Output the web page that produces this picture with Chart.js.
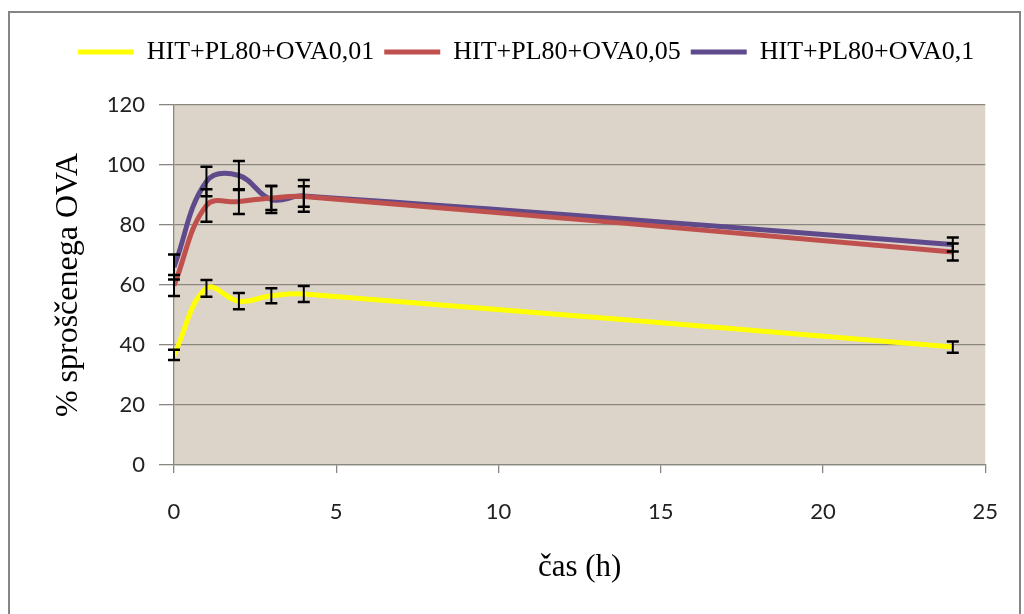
<!DOCTYPE html>
<html>
<head>
<meta charset="utf-8">
<script src="https://cdn.jsdelivr.net/npm/chart.js@4/dist/chart.umd.min.js"></script>
<style>
  html, body { margin: 0; padding: 0; background: #fff; }
  #wrap { width: 1024px; height: 614px; }
</style>
</head>
<body>
<div id="wrap"><canvas id="myChart" width="1024" height="614"></canvas></div>
<script>
// time points (h)
var hours = [0, 1, 2, 3, 4, 24];

// % released OVA
var ova001 = [36.7, 58.9, 54.6, 56.4, 57.0, 39.3];
var ova001Err = [1.7, 2.8, 2.7, 2.5, 2.7, 1.9];

var ova005 = [59.8, 86.5, 87.8, 89.0, 89.5, 71.0];
var ova005Err = [3.5, 5.4, 4.1, 4.0, 3.4, 2.8];

var ova01 = [66.0, 94.5, 96.5, 88.5, 89.7, 73.5];
var ova01Err = [4.2, 4.9, 4.8, 4.5, 5.3, 2.3];

var seriesNames = ['HIT+PL80+OVA0,01', 'HIT+PL80+OVA0,05', 'HIT+PL80+OVA0,1'];
var yTicks = [0, 20, 40, 60, 80, 100, 120];
var xTicks = [0, 5, 10, 15, 20, 25];

function pts(vals) {
  return hours.map(function(h, i) { return {x: h, y: vals[i]}; });
}

var errs = [ova001Err, ova005Err, ova01Err];

// white page, grey frame and beige plot area
var backPlugin = {
  id: 'backPlugin',
  beforeLayout: function(chart) {
    var lg = chart.legend;
    if (lg && !lg._fixed) {
      var f = lg.fit;
      lg.fit = function() { f.call(this); this.height = 76; };
      lg._fixed = true;
    }
  },
  afterLayout: function(chart) {
    // legend is centred over the whole frame, not just the plot
    if (chart.legend) { chart.legend.left = 64; }
  },
  beforeDraw: function(chart) {
    var ctx = chart.ctx, a = chart.chartArea;
    ctx.save();
    ctx.fillStyle = '#ffffff';
    ctx.fillRect(0, 0, chart.width, chart.height);
    ctx.strokeStyle = '#858585';
    ctx.lineWidth = 2;
    ctx.strokeRect(9, 12, 1011, 640);
    ctx.fillStyle = '#dcd4c8';
    ctx.fillRect(a.left, a.top, a.right - a.left, a.bottom - a.top);
    ctx.restore();
  }
};

// black error bars
var errorBars = {
  id: 'errorBars',
  afterDatasetsDraw: function(chart) {
    var ctx = chart.ctx;
    var xs = chart.scales.x, ys = chart.scales.y;
    ctx.save();
    ctx.strokeStyle = '#000';
    chart.data.datasets.forEach(function(ds, d) {
      ds.data.forEach(function(p, i) {
        var e = errs[d][i];
        var px = xs.getPixelForValue(p.x);
        var top = ys.getPixelForValue(p.y + e);
        var bot = ys.getPixelForValue(p.y - e);
        ctx.lineWidth = 2;
        ctx.beginPath();
        ctx.moveTo(px, top); ctx.lineTo(px, bot);
        ctx.stroke();
        ctx.lineWidth = 2.5;
        ctx.beginPath();
        ctx.moveTo(px - 6, top); ctx.lineTo(px + 6, top);
        ctx.moveTo(px - 6, bot); ctx.lineTo(px + 6, bot);
        ctx.stroke();
      });
    });
    ctx.restore();
  }
};

const data = {
  datasets: [{
    label: seriesNames[0],
    borderColor: '#ffff00',
    backgroundColor: '#ffff00',
    data: pts(ova001)
  },
  {
    label: seriesNames[1],
    borderColor: '#c0504d',
    backgroundColor: '#c0504d',
    data: pts(ova005)
  },
  {
    label: seriesNames[2],
    borderColor: '#5f4b8b',
    backgroundColor: '#5f4b8b',
    data: pts(ova01)
  }]
};

const config = {
  type: 'line',
  data: data,
  plugins: [backPlugin, errorBars],
  options: {
    responsive: false,
    devicePixelRatio: 1,
    animation: false,
    layout: { padding: { left: 0, right: 36, top: 29, bottom: 0 } },
    elements: {
      line: { borderWidth: 5, tension: 0.4 },
      point: { radius: 0, hoverRadius: 0, borderWidth: 5 }
    },
    plugins: {
      tooltip: { enabled: false },
      legend: {
        display: true,
        position: 'top',
        labels: {
          usePointStyle: true,
          pointStyle: 'line',
          pointStyleWidth: 56,
          padding: 10,
          color: '#000',
          font: { family: '"Liberation Serif", "Times New Roman", serif', size: 26 }
        }
      }
    },
    scales: {
      x: {
        type: 'linear',
        min: 0,
        max: 25,
        afterFit: function(s) { s.height = 149; },
        afterBuildTicks: function(s) { s.ticks = xTicks.map(function(v) { return {value: v}; }); },
        grid: { drawOnChartArea: false, drawTicks: true, tickLength: 8, color: '#8a8680', lineWidth: 1.3 },
        border: { display: true, color: '#8a8680', width: 1.3 },
        ticks: {
          padding: 26,
          color: '#222',
          font: { family: 'Lato, "Open Sans", sans-serif', size: 22 }
        },
        title: {
          display: true,
          text: 'čas (h)',
          color: '#000',
          padding: { top: 0, bottom: 28 },
          font: { family: '"Liberation Serif", "Times New Roman", serif', size: 31 }
        }
      },
      y: {
        min: 0,
        max: 120,
        afterFit: function(s) { s.width = 174; },
        afterBuildTicks: function(s) { s.ticks = yTicks.map(function(v) { return {value: v}; }); },
        grid: { drawOnChartArea: true, drawTicks: true, tickLength: 15, color: '#8a8680', lineWidth: 1.3 },
        border: { display: true, color: '#8a8680', width: 1.3 },
        ticks: {
          padding: 14,
          color: '#222',
          font: { family: 'Lato, "Open Sans", sans-serif', size: 22 }
        },
        title: {
          display: true,
          text: '% sproščenega OVA',
          color: '#000',
          padding: { top: 49, bottom: 0 },
          font: { family: '"Liberation Serif", "Times New Roman", serif', size: 32 }
        }
      }
    }
  }
};

var myChart = new Chart(document.getElementById('myChart'), config);
</script>
</body>
</html>
